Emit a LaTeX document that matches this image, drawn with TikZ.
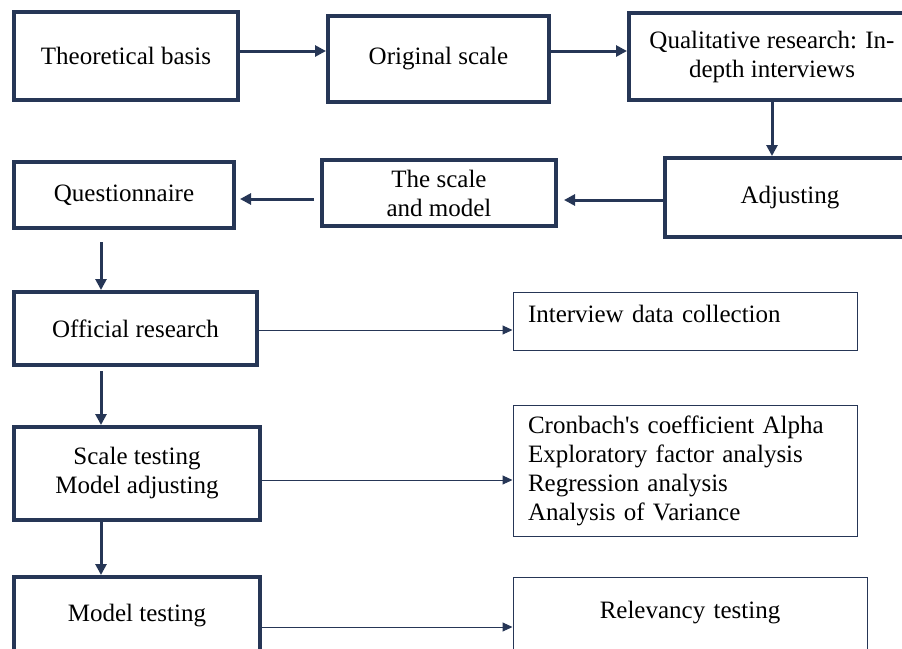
\documentclass[tikz,border=0pt]{standalone}
\usepackage{fontspec}
\setmainfont{Liberation Serif}
\usetikzlibrary{arrows.meta}
\definecolor{stepNavy}{RGB}{38,54,86}
\colorlet{navy}{stepNavy}

\begin{document}
\begin{tikzpicture}[
  x=0.5pt,y=-0.5pt,
  font=\fontsize{12.5}{14.5}\selectfont,
  mainbox/.style={draw=navy,line width=2pt,align=center,inner sep=0pt},
  notebox/.style={draw=navy,line width=0.5pt,align=left,inner ysep=0pt,inner xsep=7.5pt,text width=157pt},
  flow/.style={-{Triangle[length=5.5pt,width=5.5pt]},draw=navy,line width=1.5pt},
  link/.style={-{Triangle[length=5pt,width=4.5pt]},draw=navy,line width=0.5pt}
]
\useasboundingbox (0,0) rectangle (902,649);
% main steps
\node[mainbox,minimum width=112pt,minimum height=44pt] (theory) at (126,56) {Theoretical basis};
\node[mainbox,minimum width=110.5pt,minimum height=43pt] (original) at (438.5,59) {Original scale};
\node[mainbox,minimum width=143pt,minimum height=43.5pt] (qual) at (772,56.5) {Qualitative research: In-\\depth interviews};
\node[mainbox,minimum width=125pt,minimum height=39.5pt] (adjusting) at (790,197.5) {Adjusting};
\node[mainbox,minimum width=117pt,minimum height=33pt] (scalemodel) at (439,193) {The scale\\and model};
\node[mainbox,minimum width=110pt,minimum height=33pt] (questionnaire) at (124,195) {Questionnaire};
\node[mainbox,minimum width=121.5pt,minimum height=36.5pt] (official) at (135.5,328.5) {Official research};
\node[mainbox,minimum width=123pt,minimum height=46.5pt] (scaletest) at (137,473.5) {Scale testing\\Model adjusting};
\node[mainbox,minimum width=123pt,minimum height=44pt,text height=22pt,text depth=22pt] (modeltest) at (137,621) {Model testing};
% side notes
\node[notebox,minimum height=29pt,text height=15pt,text depth=14pt] (interview) at (685,321) {Interview data collection};
\node[notebox,minimum height=65.5pt] (analysis) at (685,470.5) {Cronbach\textquotesingle s coefficient Alpha\\Exploratory factor analysis\\Regression analysis\\Analysis of Variance};
\node[notebox,align=center,text width=162pt,minimum height=45pt,text height=20.5pt,text depth=24.5pt] (relevancy) at (690,622) {Relevancy testing};
\coordinate (spine) at (101,0);
% connectors
\draw[flow] ([yshift=2.5pt]theory.east) -- ([yshift=2.5pt]theory.east -| original.west);
\draw[flow] ([yshift=4pt]original.east) -- ([yshift=4pt]original.east -| qual.west);
\draw[flow] (qual.south) -- (qual.south |- adjusting.north);
\draw[flow,shorten >=3pt] ([yshift=-1.25pt]adjusting.west) -- ([yshift=-1.25pt]adjusting.west -| scalemodel.east);
\draw[flow,shorten <=3pt,shorten >=2pt] ([yshift=-3pt]scalemodel.west) -- ([yshift=-3pt]scalemodel.west -| questionnaire.east);
\draw[flow,shorten <=6pt] (questionnaire.south -| spine) -- (official.north -| spine);
\draw[flow,shorten <=2pt] (official.south -| spine) -- (scaletest.north -| spine);
\draw[flow] (scaletest.south -| spine) -- (modeltest.north -| spine);
\draw[link] ([yshift=-0.75pt]official.east) -- ([yshift=-0.75pt]official.east -| interview.west);
\draw[link] ([yshift=-3.25pt]scaletest.east) -- ([yshift=-3.25pt]scaletest.east -| analysis.west);
\draw[link] ([yshift=-3pt]modeltest.east) -- ([yshift=-3pt]modeltest.east -| relevancy.west);
\end{tikzpicture}
\end{document}
